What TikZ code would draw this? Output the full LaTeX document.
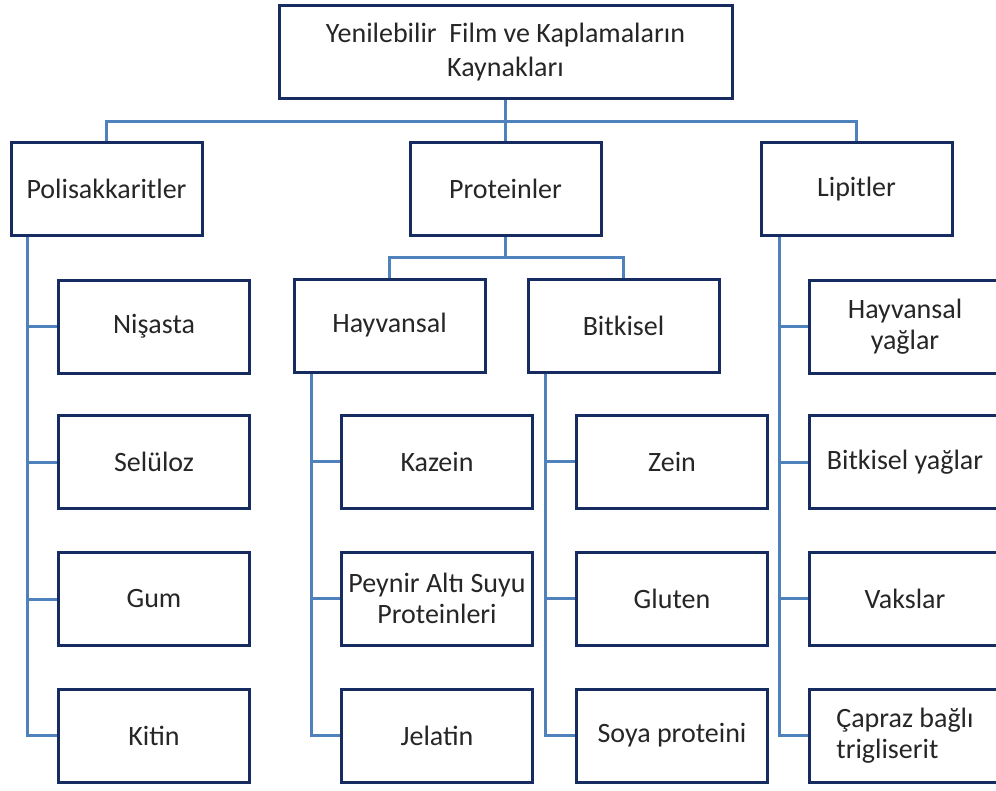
\documentclass[tikz,border=0pt]{standalone}
\usepackage{fontspec}
\setmainfont{Carlito}
\usetikzlibrary{backgrounds,calc}
\definecolor{boxc}{RGB}{22,44,96}
\definecolor{linec}{RGB}{79,129,189}
\definecolor{txt}{RGB}{38,38,38}
\begin{document}
\begin{tikzpicture}[x=1pt,y=-1pt,
  box/.style={draw=boxc, line width=3pt, fill=white, minimum width=191pt, minimum height=93pt,
    inner sep=0pt, text=txt, font=\fontsize{28}{31}\selectfont, align=center},
  conn/.style={draw=linec, line width=3pt}]
\clip (0,0) rectangle (996,790);
% top
\node[box, minimum width=453pt, font=\fontsize{28}{34}\selectfont] (top) at (505.5,52) {Yenilebilir~ Film ve Kaplamaların\\Kaynakları};
% level 2
\node[box] (pol) at (106.5,188.5) {Polisakkaritler};
\node[box] (prot) at (505.5,188.5) {Proteinler};
\node[box] (lip) at (856.5,189) {Lipitler};
% protein subgroups
\node[box] (hay) at (389.5,325.5) {Hayvansal};
\node[box] (bit) at (623.5,325.5) {Bitkisel};
% polisakkaritler children
\node[box] (nis) at (154,326.5) {Nişasta};
\node[box] (sel) at (154,462) {Selüloz};
\node[box] (gum) at (154,599) {Gum};
\node[box] (kit) at (154,735.5) {Kitin};
% hayvansal children
\node[box] (kaz) at (437,461.5) {Kazein};
\node[box] (pey) at (437,598.5) {Peynir Altı Suyu\\Proteinleri};
\node[box] (jel) at (437,735.5) {Jelatin};
% bitkisel children
\node[box] (zein) at (672,461.5) {Zein};
\node[box] (glu) at (672,598.5) {Gluten};
\node[box] (soya) at (672,735.5) {Soya proteini};
% lipitler children
\node[box] (hyag) at (905,326.5) {Hayvansal\\yağlar};
\node[box] (byag) at (905,462) {Bitkisel yağlar};
\node[box] (vaks) at (905,598.5) {Vakslar};
\node[box, align=left] (capr) at (905,735.5) {Çapraz bağlı\\trigliserit};
\begin{scope}[on background layer]
  \fill[white] (0,0) rectangle (996,790);
  \coordinate (bus1) at (505.5,121);
  \draw[conn] (top.south) -- (bus1);
  \draw[conn] (pol.north) |- (bus1) -| (lip.north);
  \draw[conn] (bus1) -- (prot.north);
  \coordinate (bus2) at (505.5,257);
  \draw[conn] (prot.south) -- (bus2);
  \draw[conn] (hay.north) |- (bus2) -| (bit.north);
  % branches
  \coordinate (pb) at ([xshift=17.5pt]pol.south west);
  \coordinate (hb) at ([xshift=18.5pt]hay.south west);
  \coordinate (bb) at ([xshift=18.5pt]bit.south west);
  \coordinate (lb) at ([xshift=19.5pt]lip.south west);
  \draw[conn] (pb) |- (kit.west);
  \foreach \n in {nis,sel,gum} \draw[conn] (\n.west) -- (\n.west -| pb);
  \draw[conn] (hb) |- (jel.west);
  \foreach \n in {kaz,pey} \draw[conn] (\n.west) -- (\n.west -| hb);
  \draw[conn] (bb) |- (soya.west);
  \foreach \n in {zein,glu} \draw[conn] (\n.west) -- (\n.west -| bb);
  \draw[conn] (lb) |- (capr.west);
  \foreach \n in {hyag,byag,vaks} \draw[conn] (\n.west) -- (\n.west -| lb);
\end{scope}
\end{tikzpicture}
\end{document}
